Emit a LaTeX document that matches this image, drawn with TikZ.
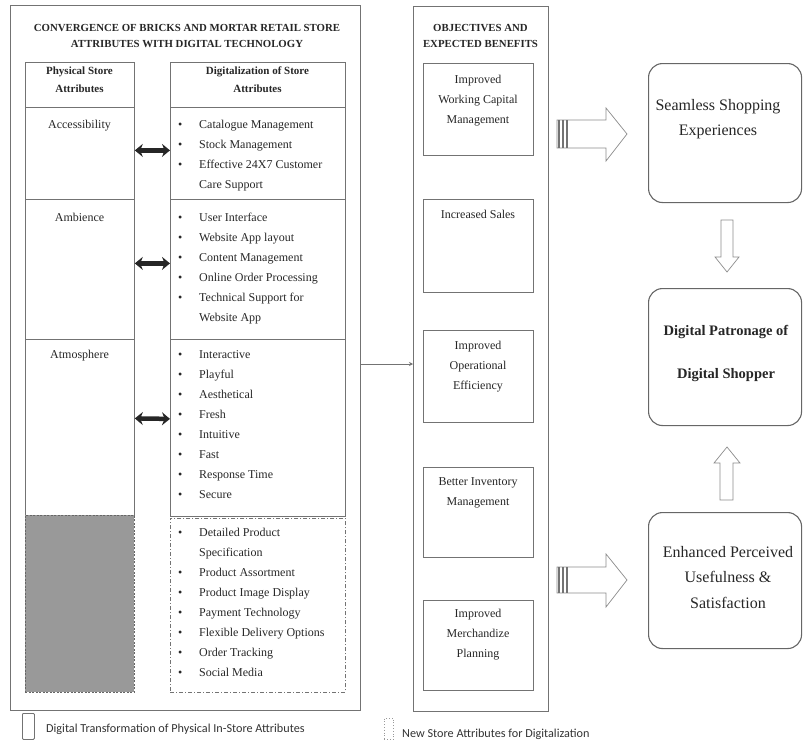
\documentclass[tikz,border=0pt]{standalone}
\usepackage{fontspec}
\setmainfont{Liberation Serif}
\newfontfamily\legendfont{Carlito}
\usetikzlibrary{arrows.meta}

\newcommand{\stack}[1]{\begin{tabular}[t]{@{}c@{}}#1\end{tabular}}
\newcommand{\blist}[1]{\begin{tabular}[t]{@{}p{21pt}@{}l@{}}#1\end{tabular}}

\begin{document}
\begin{tikzpicture}[x=1pt,y=-1pt,
  cellline/.style={draw=black!55,line width=0.8pt},
  box/.style={cellline,rectangle,inner sep=0pt,anchor=north west},
  txt/.style={inner sep=0pt,anchor=base,text=black!85,font=\fontsize{12}{20}\selectfont},
  lst/.style={txt,anchor=base west},
  ttl/.style={txt,font=\fontsize{10.8}{16}\selectfont\bfseries},
  hdr/.style={txt,font=\fontsize{11}{18}\selectfont\bfseries},
  round box/.style={box,draw=black!60,line width=1.1pt,rounded corners=14pt},
  big/.style={txt,font=\fontsize{16}{25.5}\selectfont},
  key/.style={anchor=base west,inner sep=0pt,font=\legendfont\fontsize{12.2}{14}\selectfont,text=black!80},
  twoway/.style={{Stealth[length=8pt,width=13pt]}-{Stealth[length=8pt,width=13pt]},line width=4.5pt,black!85},
  block/.style={draw=black!45,line width=0.7pt,fill=white},
  stripe/.style={black!55,line width=1.6pt}]

  \useasboundingbox (0,0) rectangle (803,744);

  % convergence block
  \node[box,minimum width=350pt,minimum height=705pt] (outer) at (10,5) {};
  \node[ttl] (ttlL) at (187,31.5) {\stack{CONVERGENCE OF BRICKS AND MORTAR RETAIL STORE\\ATTRIBUTES WITH DIGITAL TECHNOLOGY}};

  \node[box,minimum width=109pt,minimum height=45pt] (phys) at (25,62) {};
  \node[box,minimum width=175pt,minimum height=45pt] (digi) at (170,62) {};
  \node[hdr] at (79.5,74) {\stack{Physical Store\\Attributes}};
  \node[hdr] at (257.5,74) {\stack{Digitalization of Store\\Attributes}};

  \node[box,minimum width=109pt,minimum height=92pt] (acc) at (25,107) {};
  \node[box,minimum width=109pt,minimum height=140pt] (amb) at (25,199) {};
  \node[box,minimum width=109pt,minimum height=176pt] (atm) at (25,339) {};
  \node[box,minimum width=109pt,minimum height=177pt,fill=black!40,draw=black!60,dash pattern=on 2pt off 1.5pt] (blank) at (25,515) {};

  \node[box,minimum width=175pt,minimum height=92pt] (dacc) at (170,107) {};
  \node[box,minimum width=175pt,minimum height=140pt] (damb) at (170,199) {};
  \node[box,minimum width=175pt,minimum height=177pt] (datm) at (170,339) {};
  \node[box,minimum width=175pt,minimum height=174pt,dash pattern=on 4pt off 2pt on 1pt off 2pt] (dnew) at (170,518) {};

  \node[txt] at (79.5,128) {Accessibility};
  \node[txt] at (79.5,221) {Ambience};
  \node[txt] at (79.5,358) {Atmosphere};

  \node[lst] at (178,128) {\blist{\textbullet & Catalogue Management\\
    \textbullet & Stock Management\\
    \textbullet & Effective 24X7 Customer\\
    & Care Support}};
  \node[lst] at (178,221) {\blist{\textbullet & User Interface\\
    \textbullet & Website App layout\\
    \textbullet & Content Management\\
    \textbullet & Online Order Processing\\
    \textbullet & Technical Support for\\
    & Website App}};
  \node[lst] at (178,358) {\blist{\textbullet & Interactive\\
    \textbullet & Playful\\
    \textbullet & Aesthetical\\
    \textbullet & Fresh\\
    \textbullet & Intuitive\\
    \textbullet & Fast\\
    \textbullet & Response Time\\
    \textbullet & Secure}};
  \node[lst] at (178,536) {\blist{\textbullet & Detailed Product\\
    & Specification\\
    \textbullet & Product Assortment\\
    \textbullet & Product Image Display\\
    \textbullet & Payment Technology\\
    \textbullet & Flexible Delivery Options\\
    \textbullet & Order Tracking\\
    \textbullet & Social Media}};

  \draw[twoway] ([yshift=3pt]acc.east) -- ([yshift=3pt]dacc.west);
  \draw[twoway] ([yshift=6pt]amb.east) -- ([yshift=6pt]damb.west);
  \draw[twoway] ([yshift=9pt]atm.east) -- ([yshift=9pt]datm.west);

  % objectives block
  \node[box,minimum width=135pt,minimum height=705pt] (mid) at (413,6) {};
  \node[ttl] (ttlM) at (480.5,31.5) {\stack{OBJECTIVES AND\\EXPECTED BENEFITS}};

  \node[box,minimum width=110pt,minimum height=92pt] (wcap) at (423,63) {};
  \node[box,minimum width=110pt,minimum height=93pt] (sales) at (423,199) {};
  \node[box,minimum width=110pt,minimum height=92pt] (oper) at (423,330) {};
  \node[box,minimum width=110pt,minimum height=90pt] (inv) at (423,467) {};
  \node[box,minimum width=110pt,minimum height=90pt] (merch) at (423,600) {};
  \node[txt] at (478,83) {\stack{Improved\\Working Capital\\Management}};
  \node[txt] at (478,218) {Increased Sales};
  \node[txt] at (478,349) {\stack{Improved\\Operational\\Efficiency}};
  \node[txt] at (478,485) {\stack{Better Inventory\\Management}};
  \node[txt] at (478,617) {\stack{Improved\\Merchandize\\Planning}};

  \coordinate (link) at (360,364);
  \draw[cellline,-{Stealth[length=4pt,width=4pt]}] (link) -- (link -| mid.west);

  % outcome boxes
  \node[round box,minimum width=153pt,minimum height=139pt] (seam) at (648,63) {};
  \node[round box,minimum width=153pt,minimum height=137pt] (patr) at (648,288) {};
  \node[round box,minimum width=153pt,minimum height=136pt] (usef) at (648,512) {};
  \node[big] at (718,110) {\stack{Seamless Shopping\\Experiences}};
  \node[big,font=\fontsize{14.5}{43}\selectfont\bfseries] at (726,335) {\stack{Digital Patronage of\\Digital Shopper}};
  \node[big] at (728,557) {\stack{Enhanced Perceived\\Usefulness \&\\Satisfaction}};

  % block arrows
  \draw[block] (557,120) -- (606,120) -- (606,108) -- (627,134) -- (606,161) -- (606,148) -- (557,148) -- cycle;
  \draw[block] (557,567) -- (606,567) -- (606,554) -- (627,580) -- (606,607) -- (606,593) -- (557,593) -- cycle;
  \foreach \x in {559,563,567} {
    \draw[stripe] (\x,120) -- (\x,148);
    \draw[stripe] (\x,567) -- (\x,593);
  }
  \draw[block] (721,220) -- (733,220) -- (733,257) -- (739,257) -- (727,272) -- (715,257) -- (721,257) -- cycle;
  \draw[block] (720,500) -- (733,500) -- (733,463) -- (740,463) -- (727,447) -- (714,463) -- (720,463) -- cycle;

  % legend
  \node[box,minimum width=12pt,minimum height=26pt,rounded corners=1pt] (key1) at (22,713) {};
  \node[key] at (46,732) {Digital Transformation of Physical In-Store Attributes};
  \node[box,minimum width=9pt,minimum height=21pt,draw=black!40,dotted] (key2) at (384,718) {};
  \node[key] at (402,737) {New Store Attributes for Digitalization};
\end{tikzpicture}
\end{document}
